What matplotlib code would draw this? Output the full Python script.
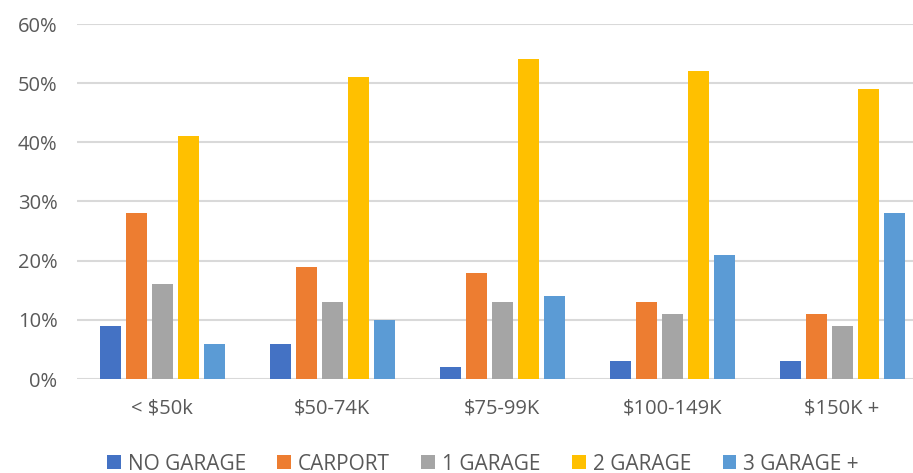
import matplotlib.pyplot as plt
import numpy as np

categories = ["< $50k", "$50-74K", "$75-99K", "$100-149K", "$150K +"]
series_names = ["NO GARAGE", "CARPORT", "1 GARAGE", "2 GARAGE", "3 GARAGE +"]
no_garage = [9, 6, 2, 3, 3]
carport = [28, 19, 18, 13, 11]
one_garage = [16, 13, 13, 11, 9]
two_garage = [41, 51, 54, 52, 49]
three_garage = [6, 10, 14, 21, 28]
colors = ["#4472C4", "#ED7D31", "#A5A5A5", "#FFC000", "#5B9BD5"]

plt.rcParams['font.family'] = ['Open Sans', 'DejaVu Sans']

fig = plt.figure(figsize=(9.13, 4.73), dpi=100)
ax = fig.add_axes([77 / 913, 94 / 473, 850 / 913, 355 / 473])

x = np.arange(len(categories))
pitch = 0.153
width = 0.125
all_series = [no_garage, carport, one_garage, two_garage, three_garage]
for i, (name, vals) in enumerate(zip(series_names, all_series)):
    ax.bar(x + (i - 2) * pitch + 0.005, vals, width, color=colors[i], label=name, zorder=3)

ax.set_xlim(-0.5, len(categories) - 0.5)
ax.set_ylim(0, 60)
ax.set_yticks(range(0, 61, 10))
ax.set_yticklabels([f"{v}%" for v in range(0, 61, 10)])
ax.set_xticks(x)
ax.set_xticklabels(categories)
ax.tick_params(length=0, labelsize=14.5, labelcolor="#595959")
ax.tick_params(axis='y', pad=14)
ax.tick_params(axis='x', pad=14)
ax.yaxis.grid(True, color="#d9d9d9", linewidth=1.5, zorder=0)
for s in ax.spines.values():
    s.set_visible(False)

leg = fig.legend(loc="center", bbox_to_anchor=(483 / 913, 1 - 464 / 473), ncol=5,
                 frameon=False, fontsize=15, handlelength=0.65, handleheight=0.65,
                 handletextpad=0.35, columnspacing=1.5)
for t in leg.get_texts():
    t.set_color("#595959")

fig.savefig("out.png", dpi=100)
